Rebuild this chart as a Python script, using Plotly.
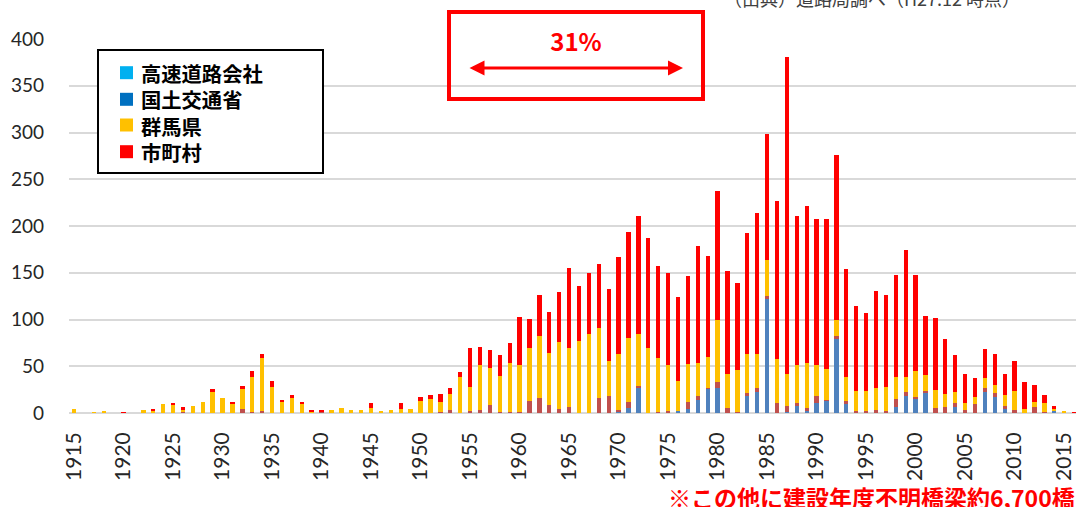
import plotly.graph_objects as go

years = list(range(1915, 2017))

# 高速道路会社 (bottom, steel blue in bars)
expressway = [0,0,0,0,0,0,0,0,0,0, 0,0,0,0,0,0,0,0,0,0,
              0,0,0,0,0,0,0,0,0,0, 0,0,0,0,0,0,0,0,0,0,
              0,0,0,0,0,0,0,0,0,0, 0,0,0,0,0,2,5,27,0,0,
              0,2,4,14,26,27,0,0,18,23, 122,0,1,8,2,11,13,79,10,0,
              0,0,0,6,18,16,21,0,0,6, 0,0,22,17,4,0,0,0,0,2,
              0,0]
# 国土交通省 (muted red in bars)
mlit = [0,0,0,0,0,0,0,0,0,0, 0,1,0,0,0,0,0,4,1,2,
        0,0,0,0,0,2,0,0,0,0, 0,1,0,0,0,0,0,1,3,0,
        2,3,9,1,1,1,13,16,9,4, 6,0,0,16,18,1,7,2,0,1,
        2,0,8,4,1,6,5,1,3,4, 3,11,7,3,3,7,1,3,3,2,
        2,3,2,9,4,1,3,5,6,5, 3,10,5,4,4,3,0,6,1,0,
        0,0]
# 群馬県 (yellow)
gunma = [4,0,1,2,0,0,0,3,3,10, 9,3,8,12,23,16,10,22,37,57,
         28,12,17,10,2,0,3,5,3,3, 5,1,3,4,4,13,15,11,17,38,
         26,48,39,39,53,50,57,66,55,72, 63,77,85,75,38,60,68,55,69,58,
         49,32,40,36,33,66,37,45,42,36, 39,47,34,40,48,33,33,17,25,22,
         22,24,26,24,16,28,17,20,14,12, 8,7,10,9,11,21,4,6,10,3,
         1.5,0]
# 市町村 (red)
municipal = [0,0,0,0,0,1,0,0,1,0, 1,2,0,0,3,0,1,3,7,4,
             6,2,2,1,1,1.5,0,0,0,0, 6,0,0,7,0,4,4,8,7,6,
             42,20,19,22,21,52,31,44,44,53, 86,59,65,68,77,104,114,127,118,98,
             99,90,95,125,108,138,110,93,130,151, 134,169,339,160,168,157,160,177,116,90,
             83,103,98,109,136,103,63,77,59,39, 31,20,31,33,23,32,29,18,8,2,
             0,1]

series_names = ["高速道路会社", "国土交通省", "群馬県", "市町村"]
bar_colors = ["#4F81BD", "#C0504D", "#FFC000", "#FF0000"]
legend_colors = ["#00B0F0", "#0070C0", "#FFC000", "#FF0000"]
y_ticks = list(range(0, 401, 50))
x_ticks = list(range(1915, 2016, 5))

W, H = 1076, 507
L, R, T, B = 69, 0, 39, 94
PW, PH = W - L - R, H - T - B


def px(x):
    return (x - L) / PW


def py(y):
    return (H - B - y) / PH


fig = go.Figure()
for name, vals, col in zip(series_names, [expressway, mlit, gunma, municipal], bar_colors):
    fig.add_trace(go.Bar(x=years, y=vals, name=name, marker=dict(color=col, line=dict(width=0)),
                         width=0.44, showlegend=False))

fig.update_layout(
    width=W, height=H, barmode="stack",
    margin=dict(l=L, r=R, t=T, b=B, pad=0, autoexpand=False),
    paper_bgcolor="white", plot_bgcolor="white",
    xaxis=dict(range=[1914.49, 2016.2], tickvals=x_ticks, ticktext=[str(v) for v in x_ticks],
               tickangle=-90, showgrid=False, zeroline=False, showline=False, ticks="",
               tickfont=dict(family="Lato, Noto Sans, sans-serif", size=21, color="#262626"),
               ticklabelstandoff=14, automargin=False),
    yaxis=dict(range=[0, 400], tickvals=y_ticks, showgrid=True, gridcolor="#D9D9D9", gridwidth=2,
               zeroline=True, zerolinecolor="#D9D9D9", zerolinewidth=2, showline=False, ticks="",
               tickfont=dict(family="Lato, Noto Sans, sans-serif", size=19, color="#262626"),
               ticklabelstandoff=24, automargin=False),
)

shapes = []
annotations = []

# Legend box (custom, colors differ from bar fills as in source)
shapes.append(dict(type="rect", xref="paper", yref="paper", x0=px(98), x1=px(323), y0=py(50), y1=py(173),
                   line=dict(color="black", width=2), fillcolor="white", layer="above"))
row_y = [72.7, 99.3, 125, 151.7]
for col, ry in zip(legend_colors, row_y):
    shapes.append(dict(type="rect", xref="paper", yref="paper", x0=px(120), x1=px(133),
                       y0=py(ry - 6.5), y1=py(ry + 6.5), line=dict(width=0), fillcolor=col, layer="above"))
annotations.append(dict(xref="paper", yref="paper", x=px(140), y=py(sum(row_y) / 4 + 0.5),
                        xanchor="left", yanchor="middle", align="left",
                        text="<br>".join(f"<b>{n}</b>" for n in series_names), showarrow=False, borderpad=0,
                        font=dict(family="Noto Sans CJK JP", size=20.3, color="black")))

# Red box with 31%
shapes.append(dict(type="rect", xref="paper", yref="paper", x0=px(449), x1=px(703), y0=py(12), y1=py(99),
                   line=dict(color="#FF0000", width=4), fillcolor="rgba(0,0,0,0)", layer="above"))
annotations.append(dict(xref="paper", yref="paper", x=px(576), y=py(40), xanchor="center", yanchor="middle",
                        text="<b>31%</b>", showarrow=False, bgcolor="white", width=90, height=24,
                        font=dict(family="Noto Sans CJK JP", size=24, color="#FF0000")))
annotations.append(dict(xref="paper", yref="paper", x=px(683), y=py(68), text="", showarrow=True,
                        ax=-215, ay=0, arrowside="end+start", arrowhead=2, arrowsize=1, arrowwidth=3,
                        arrowcolor="#FF0000", standoff=0, startstandoff=0))

# Source note (clipped at top)
annotations.append(dict(xref="paper", yref="paper", x=px(722), y=py(-2), xanchor="left", yanchor="middle",
                        text="（出典）道路局調べ（H27.12 時点）", showarrow=False,
                        font=dict(family="Noto Sans CJK JP", size=18, color="#404040")))

# Bottom note
annotations.append(dict(xref="paper", yref="paper", x=px(1076), y=py(497), xanchor="right", yanchor="middle",
                        text="<b>※この他に建設年度不明橋梁約6,700橋</b>", showarrow=False, borderpad=0,
                        height=22, font=dict(family="Noto Sans CJK JP", size=23, color="#FF0000")))

fig.update_layout(shapes=shapes, annotations=annotations)
fig.write_html("out.html", config={"displayModeBar": False},
               post_script="document.body.style.margin='0';document.body.style.padding='0';"
                           "document.documentElement.style.overflow='hidden';")
